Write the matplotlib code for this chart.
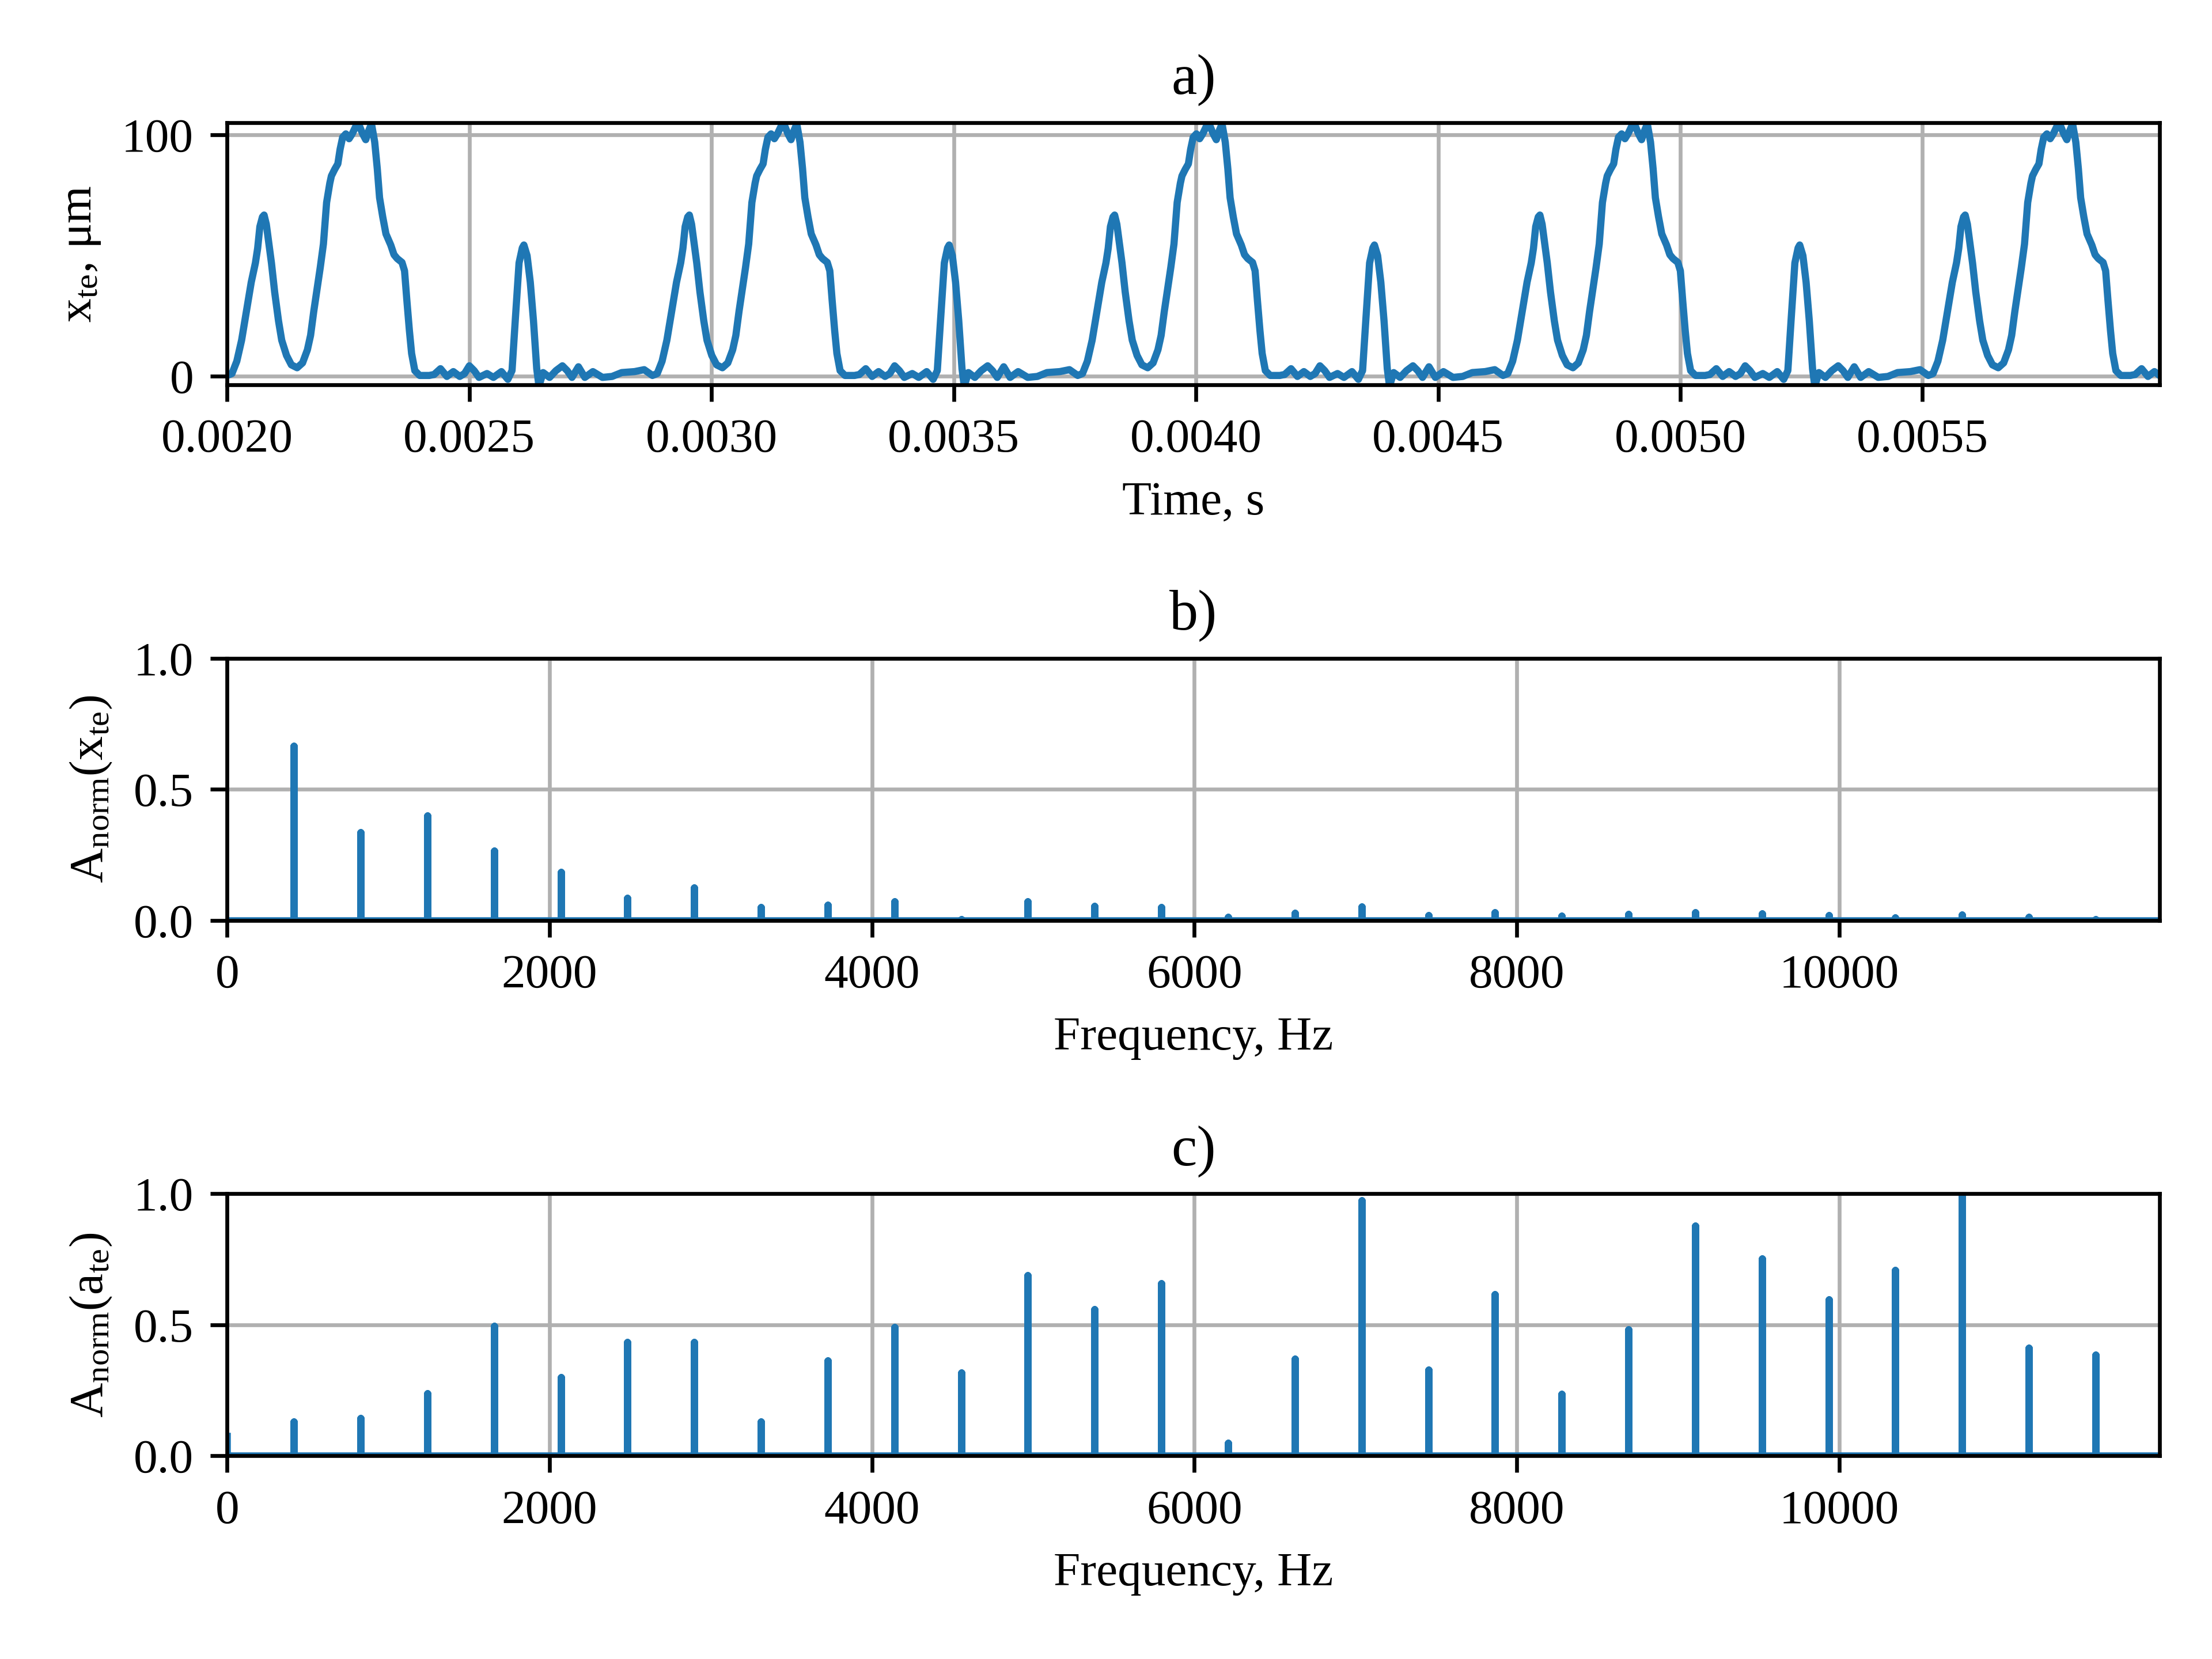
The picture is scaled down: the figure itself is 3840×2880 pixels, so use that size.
import matplotlib.pyplot as plt
import numpy as np

plt.rcParams['font.family'] = 'Liberation Serif'
plt.rcParams['font.size'] = 10
plt.rcParams['mathtext.fontset'] = 'custom'
plt.rcParams['mathtext.rm'] = 'Liberation Serif'
plt.rcParams['mathtext.it'] = 'Liberation Serif:italic'

# a) one cycle of the tool-edge displacement
# time offset inside the cycle (microseconds) and displacement (um)
cycle_t_us = [0, 9.9, 19.9, 29.8, 39.7, 49.7, 58.3, 62.9, 67.5, 72.8,
              76.2, 80.8, 86.1, 91.4, 98.0, 106.0, 112.6, 122.5, 132.5, 144.4,
              155.6, 165.6, 172.2, 178.8, 192.1, 198.7, 205.3, 211.9, 215.2, 221.9,
              228.5, 233.1, 238.4, 245.0, 251.7, 258.3, 266.2, 271.5, 279.5, 286.1,
              292.7, 298.0, 304.6, 309.9, 314.6, 321.2, 327.8, 337.7, 344.4, 351.0,
              360.9, 366.2, 370.9, 376.2, 380.8, 387.4, 397.4, 417.2, 427.2, 440.4,
              453.6, 466.9, 480.1, 490.1, 500.0, 509.9, 519.9, 536.4, 549.7, 566.2,
              579.5, 588.1, 594.7, 602.6, 609.3, 612.6, 619.2, 625.8, 632.4, 639.1,
              643.7, 652.3, 665.6, 678.8, 692.1, 702.0, 711.9, 725.2, 738.4, 755.0,
              774.8, 794.7, 814.6, 841.1, 860.9]
cycle_x_um = [0.4, 1.2, 6.3, 15, 27, 39, 47, 53, 62, 66,
              66.8, 63, 55, 47, 35, 23, 15, 8.7, 4.8, 3.6,
              5.6, 11, 17, 27, 45, 54.8, 72, 80, 83, 85.7,
              88, 94, 99, 100.4, 98.4, 100.5, 103.8, 104.5, 100.5, 98,
              102, 104.5, 97, 86, 74, 66, 59, 54.4, 50.4, 48.8,
              47.2, 43.7, 31.7, 19, 9.5, 2.4, 0.4, 0.4, 0.8, 3.2,
              0, 2, 0, 1.2, 4.4, 2.4, -0.4, 1.2, -0.4, 2,
              -1.2, 2.4, 23, 47, 53.2, 54.4, 50, 39, 23, 3.2,
              -4, 1.6, -0.4, 2.4, 4.4, 2.4, -0.4, 4, -0.4, 2,
              -0.4, 0, 1.6, 2, 2.8]
cycle_period_s = 0.000878
t_start_s = 0.0020
n_cycles = 5

# b), c) normalised amplitude spectra at the harmonics
harmonic_hz = [414, 828, 1242, 1656, 2070, 2484, 2898, 3312, 3726, 4140,
               4554, 4968, 5382, 5796, 6210, 6624, 7038, 7452, 7866, 8280,
               8694, 9108, 9522, 9936, 10350, 10764, 11178, 11592]
amp_x = [0.665, 0.335, 0.40, 0.265, 0.185, 0.085, 0.125, 0.05, 0.058, 0.072,
         0.004, 0.072, 0.054, 0.05, 0.012, 0.028, 0.052, 0.02, 0.031, 0.018,
         0.024, 0.031, 0.026, 0.02, 0.01, 0.022, 0.012, 0.003]
amp_a = [0.13, 0.145, 0.238, 0.496, 0.30, 0.435, 0.435, 0.13, 0.364, 0.491,
         0.317, 0.688, 0.56, 0.659, 0.05, 0.371, 0.975, 0.328, 0.616, 0.236,
         0.482, 0.878, 0.753, 0.597, 0.708, 1.0, 0.411, 0.386]
amp_x_dc = 0.0
amp_a_dc = 0.075
f_end_hz = 11990


def time_signal():
    t_cycle = np.array(cycle_t_us) * 1e-6
    t = np.concatenate([t_start_s + k * cycle_period_s + t_cycle for k in range(n_cycles)])
    x = np.tile(np.array(cycle_x_um), n_cycles)
    return t, x


def spectrum_line(dc, amps):
    f = [0.0, 0.0]
    a = [dc, 0.0]
    for fh, ah in zip(harmonic_hz, amps):
        f += [fh, fh, fh]
        a += [0.0, ah, 0.0]
    f.append(f_end_hz)
    a.append(0.0)
    return np.array(f), np.array(a)


fig, axes = plt.subplots(3, 1, figsize=(6.4, 4.8), dpi=600)
fig.subplots_adjust(left=0.1027, right=0.9764, top=0.926, bottom=0.1224, hspace=1.043)

# a) time signal
ax = axes[0]
t, x = time_signal()
ax.plot(t, x, color='#1f77b4', linewidth=1.5)
ax.set_xlim(t_start_s, 0.00599)
ax.set_ylim(-3.5, 105)
ax.set_xticks(np.arange(0.0020, 0.0056, 0.0005))
ax.set_xticklabels([f'{v:.4f}' for v in np.arange(0.0020, 0.0056, 0.0005)])
ax.set_yticks([0, 100])
ax.set_xlabel('Time, s')
ax.set_ylabel(r'x$_{\rm te}$, μm')
ax.set_title('a)')
ax.grid(True)

# b), c) spectra
spectra = [(amp_x_dc, amp_x, r'A$_{\rm norm}$(x$_{\rm te}$)', 'b)'),
           (amp_a_dc, amp_a, r'A$_{\rm norm}$(a$_{\rm te}$)', 'c)')]
for ax, (dc, amps, ylabel, title) in zip(axes[1:], spectra):
    f, a = spectrum_line(dc, amps)
    ax.plot(f, a, color='#1f77b4', linewidth=1.5)
    ax.set_xlim(0, f_end_hz)
    ax.set_ylim(0, 1.0)
    ax.set_xticks([0, 2000, 4000, 6000, 8000, 10000])
    ax.set_yticks([0.0, 0.5, 1.0])
    ax.set_xlabel('Frequency, Hz')
    ax.set_ylabel(ylabel)
    ax.set_title(title)
    ax.grid(True)

plt.savefig('out.png', dpi=600)
plt.close()
